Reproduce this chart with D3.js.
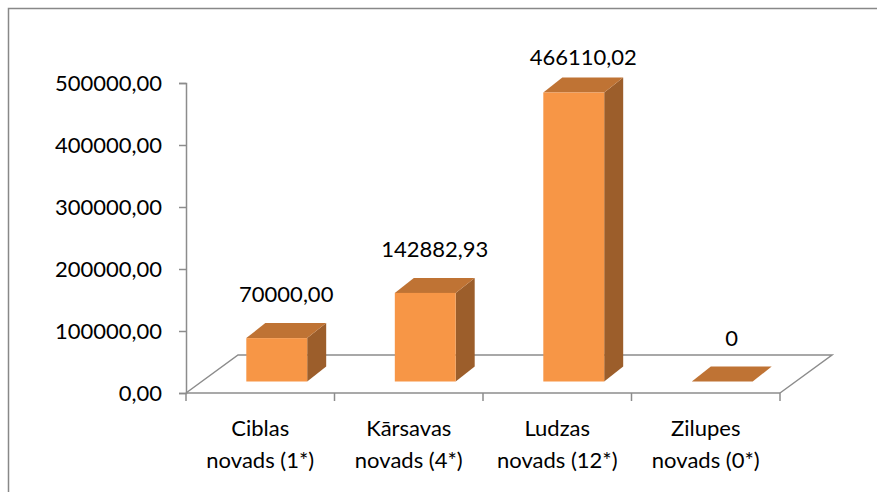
<!DOCTYPE html>
<html lang="lv">
<head>
    <meta charset="UTF-8">
    <title>Novadi</title>
    <script src="https://d3js.org/d3.v7.min.js"></script>
    <style>
        body { margin: 0; background: #fff; }
        text { font-family: Lato, "Open Sans", sans-serif; fill: #000; }
    </style>
</head>
<body>
    <svg width="877" height="492"></svg>
    <script>
        // data
        var categories = ["Ciblas novads (1*)", "Kārsavas novads (4*)", "Ludzas novads (12*)", "Zilupes novads (0*)"];
        var labelLines = [["Ciblas", "novads (1*)"], ["Kārsavas", "novads (4*)"], ["Ludzas", "novads (12*)"], ["Zilupes", "novads (0*)"]];
        var values = [70000.00, 142882.93, 466110.02, 0];
        var valueLabels = ["70000,00", "142882,93", "466110,02", "0"];
        var yTicks = [0, 100000, 200000, 300000, 400000, 500000];

        var svg = d3.select("svg");
        var fontSize = 22;

        // outer frame (cut off at right/bottom)
        svg.append("path")
            .attr("d", "M8.5,500 V8.5 H880")
            .attr("fill", "none")
            .attr("stroke", "#888")
            .attr("stroke-width", 1.5);

        var x = d3.scaleBand().domain(categories).range([186, 780]);
        var y = d3.scaleLinear().domain([0, 500000]).range([393, 83]);

        // 3d offsets
        var floorDx = 52, floorDy = -38;
        var barDx = 19, barDy = -15;
        var offX = (floorDx - barDx) / 2, offY = (floorDy - barDy) / 2;
        var barW = x.bandwidth() * 0.41;

        var grey = "#8c8c8c";
        var y0 = y(0);

        // floor outline
        svg.append("path")
            .attr("d", "M" + x.range()[0] + "," + y0 +
                " L" + (x.range()[0] + floorDx) + "," + (y0 + floorDy) +
                " H" + (x.range()[1] + floorDx) +
                " L" + x.range()[1] + "," + y0)
            .attr("fill", "none")
            .attr("stroke", grey)
            .attr("stroke-width", 1.5);

        // value axis
        var locale = d3.formatLocale({decimal: ",", thousands: "", grouping: [3], currency: ["", ""]});
        var fmt = locale.format(".2f");
        var yAxis = svg.append("g")
            .attr("transform", "translate(186,0)")
            .call(d3.axisLeft(y).tickValues(yTicks).tickFormat(fmt).tickSize(7).tickPadding(17));
        yAxis.select(".domain").attr("stroke", grey).attr("stroke-width", 1.5);
        yAxis.selectAll(".tick line").attr("stroke", grey).attr("stroke-width", 1.5);
        yAxis.selectAll(".tick text")
            .attr("font-size", fontSize)
            .attr("font-family", "Lato, sans-serif")
            .attr("fill", "#000");

        // category axis
        var edges = categories.map(function(c) { return x(c); }).concat([x.range()[1]]);
        svg.append("line")
            .attr("x1", x.range()[0]).attr("x2", x.range()[1])
            .attr("y1", y0).attr("y2", y0)
            .attr("stroke", grey).attr("stroke-width", 1.5);
        svg.selectAll(".xtick").data(edges).enter().append("line")
            .attr("class", "xtick")
            .attr("x1", function(d) { return d; }).attr("x2", function(d) { return d; })
            .attr("y1", y0).attr("y2", y0 + 8)
            .attr("stroke", grey).attr("stroke-width", 1.5);

        var catText = svg.selectAll(".cat").data(categories).enter().append("text")
            .attr("class", "cat")
            .attr("text-anchor", "middle")
            .attr("font-size", fontSize);
        catText.each(function(d, i) {
            var t = d3.select(this);
            labelLines[i].forEach(function(line, j) {
                t.append("tspan")
                    .attr("x", x(d) + x.bandwidth() / 2)
                    .attr("y", 436 + j * 32)
                    .text(line);
            });
        });

        // bars
        var bars = svg.selectAll(".bar").data(categories).enter().append("g").attr("class", "bar");
        bars.each(function(d, i) {
            var g = d3.select(this);
            var x0 = x(d) + (x.bandwidth() - barW) / 2 + offX;
            var x1 = x0 + barW;
            var yb = y0 + offY;
            var yt = y(values[i]) + offY;
            // side
            g.append("path")
                .attr("d", "M" + x1 + "," + yb + " L" + (x1 + barDx) + "," + (yb + barDy) +
                    " L" + (x1 + barDx) + "," + (yt + barDy) + " L" + x1 + "," + yt + "Z")
                .attr("fill", "#9c5e2b");
            // top
            g.append("path")
                .attr("d", "M" + x0 + "," + yt + " L" + (x0 + barDx) + "," + (yt + barDy) +
                    " L" + (x1 + barDx) + "," + (yt + barDy) + " L" + x1 + "," + yt + "Z")
                .attr("fill", "#bf7334");
            // front
            if (values[i] > 0) {
                g.append("rect")
                    .attr("x", x0).attr("y", yt)
                    .attr("width", barW).attr("height", yb - yt)
                    .attr("fill", "#f79646");
            }
        });

        // value labels
        svg.selectAll(".vlab").data(categories).enter().append("text")
            .attr("class", "vlab")
            .attr("text-anchor", "middle")
            .attr("font-size", fontSize)
            .attr("x", function(d) { return x(d) + x.bandwidth() / 2 + offX + barDx / 2; })
            .attr("y", function(d, i) { return Math.max(y(values[i]) + offY - 36, 65); })
            .text(function(d, i) { return valueLabels[i]; });
    </script>
</body>
</html>
